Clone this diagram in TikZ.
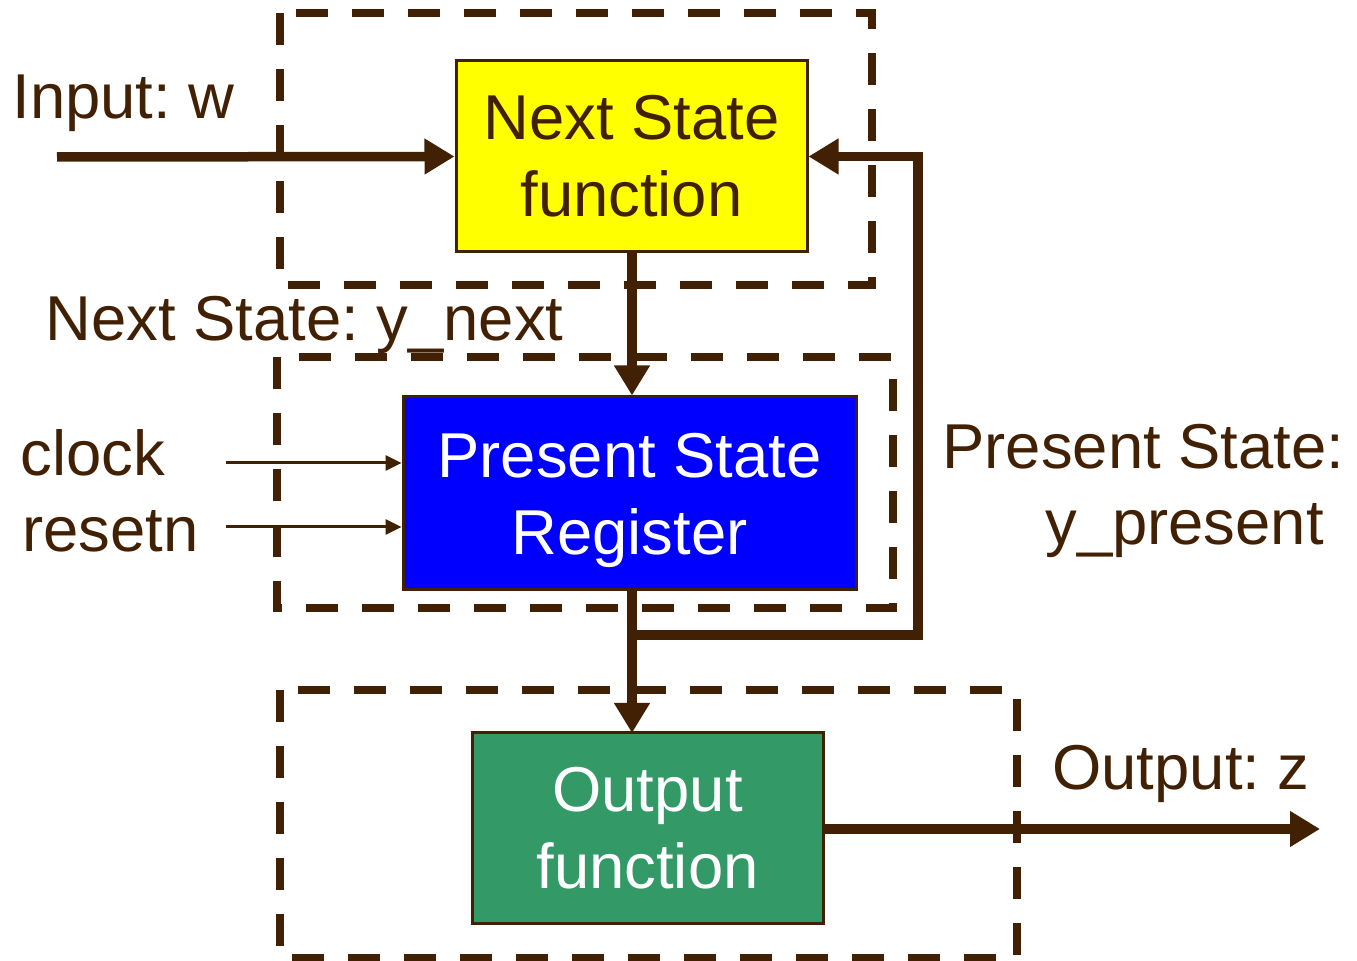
\documentclass[tikz,border=0pt]{standalone}
\usepackage{fontspec}
\setmainfont{Liberation Sans}
\usetikzlibrary{arrows.meta}
\definecolor{brn}{RGB}{66,32,4}
\definecolor{ylw}{RGB}{255,255,0}
\definecolor{blu}{RGB}{0,0,255}
\definecolor{grn}{RGB}{51,153,102}
\frenchspacing
\tikzset{
  bigfont/.style={font=\fontsize{31.7pt}{38.5pt}\selectfont\frenchspacing},
  block/.style={draw=brn, line width=1.5pt, rectangle, inner sep=0pt, align=center, bigfont},
  lbl/.style={anchor=base west, inner sep=0pt, text=brn, bigfont},
  dashbox/.style={draw=brn, line width=3.8pt, dash pattern=on 16pt off 12pt},
  thickarrow/.style={draw=brn, line width=4.75pt, -{Triangle[length=15pt,width=17pt]}},
  thinarrow/.style={draw=brn, line width=1.5pt, -{Triangle[length=8pt,width=7.5pt]}}
}
\begin{document}
\begin{tikzpicture}[x=0.5pt, y=-0.5pt]
\useasboundingbox (0,0) rectangle (1357,961);
% dashed boundaries
\draw[dashbox] (280,13) rectangle (872,285);
\draw[dashbox] (277,357) rectangle (893,608);
\draw[dashbox] (280,690) rectangle (1017,958);
% blocks
\node[block, fill=ylw, text=brn, minimum width=175.5pt, minimum height=95.5pt] (ns) at (631.5,156.5) {Next State\\function};
\node[block, fill=blu, text=white, minimum width=226.5pt, minimum height=96.5pt] (psr) at (629.5,493.5) {Present State\\\smash{Register}};
\node[block, fill=grn, text=white, minimum width=175.5pt, minimum height=95.5pt] (of) at (647.5,828.5) {Output\\function};
% labels
\node[lbl] (inw) at (12,119) {Input: w};
\node[lbl] (nsl) at (45,341) {Next State: y\_next};
\node[lbl] (clk) at (20,476) {clock};
\node[lbl] (rst) at (22,552) {resetn};
\node[lbl] (psl1) at (942,469) {Present State:};
\node[lbl] (psl2) at (1045,545) {y\_present};
\node[lbl] (outz) at (1052,790) {Output: z};
% coordinates
\coordinate (inS) at (57,157);
\coordinate (clkS) at (226,463);
\coordinate (rstS) at (226,527);
\coordinate (psrB) at (632,590);
\coordinate (ofT) at (632,733);
\coordinate (j) at (632,635);
\coordinate (fb) at (918,635);
\coordinate (outE) at (1320,829);
% connectors
\draw[thickarrow] (inS) -- (ns.west);
\draw[thickarrow] (ns.south -| j) -- (j |- psr.north);
\draw[thickarrow] (psrB) -- (ofT);
\draw[thickarrow] (j) -- (fb) |- (ns.east);
\draw[thinarrow] (clkS) -- (clkS -| psr.west);
\draw[thinarrow] (rstS) -- (rstS -| psr.west);
\draw[thickarrow] (of.east |- outE) -- (outE);
\end{tikzpicture}
\end{document}
